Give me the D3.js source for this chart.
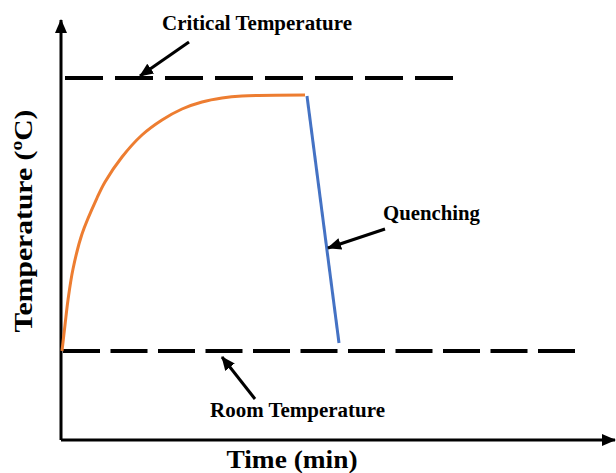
<!DOCTYPE html>
<meta charset="utf-8">
<style>
 body { margin: 0; background: #fff; }
 svg { display: block; }
 text {
   font-family: "Liberation Serif", "Times New Roman", serif;
   font-weight: bold;
   fill: #000;
 }
 .axis line { stroke: #000; stroke-width: 3; }
 .level line { stroke: #000; stroke-width: 4; }
 .level line.critical { stroke-dasharray: 38 12; }
 .level line.room { stroke-dasharray: 37 10.5; }
 .heat { fill: none; stroke: #ed7d31; stroke-width: 3; }
 .quench { fill: none; stroke: #4472c4; stroke-width: 3; }
 .note line { stroke: #000; stroke-width: 3; }
 marker path { fill: #000; }
</style>
<body>
<svg width="616" height="473">
  <defs>
    <marker id="head" viewBox="0 -7 14 14" refX="13" refY="0" markerWidth="14" markerHeight="14"
            markerUnits="userSpaceOnUse" orient="auto">
      <path d="M0,-6L14,0L0,6Z"/>
    </marker>
  </defs>
</svg>
<script src="https://cdn.jsdelivr.net/npm/d3@7"></script>
<script>
 // data (arbitrary units, time vs temperature)
 var heatTime = [0.1, 0.4, 0.7, 1.2, 2.1, 3.6, 4.4, 6.1, 8.1, 10.1, 12.1, 14.1, 16.1, 18.1, 24.4]
 var heatTemp = [8.9, 11.5, 14.0, 17.1, 20.6, 24.2, 25.8, 28.3, 30.5, 32.0, 33.1, 33.8, 34.2, 34.4, 34.5]
 var quenchTime = [24.6, 27.8]
 var quenchTemp = [34.4, 9.7]

 var levelNames = ['critical', 'room']
 var levelTemp = [36.2, 8.9]
 var levelStart = [0.4, 0.2]
 var levelEnd = [39.2, 51.6]

 // annotation arrows: [label, text x, text y, text width, tail x, tail y, tip x, tip y]
 var notes = [
   ['Critical Temperature', 10.1, 41.0, 190, 12.8, 39.8, 7.9, 36.4],
   ['Quenching', 32.2, 22.0, 97, 32.4, 21.1, 26.7, 19.2],
   ['Room Temperature', 14.9, 2.3, 175, 19.4, 4.1, 16.1, 8.3]
 ]

 var svg = d3.select('svg')
 var x = d3.scaleLinear().domain([0, 55]).range([61, 611])
 var y = d3.scaleLinear().domain([0, 42]).range([440, 20])

 // axes with arrow heads
 var axis = svg.append('g').attr('class', 'axis')
 axis.append('line')
     .attr('x1', x(0)).attr('y1', y(0))
     .attr('x2', x(55.4)).attr('y2', y(0))
     .attr('marker-end', 'url(#head)')
 axis.append('line')
     .attr('x1', x(0)).attr('y1', y(0))
     .attr('x2', x(0)).attr('y2', y(42))
     .attr('marker-end', 'url(#head)')

 // dashed reference levels
 svg.append('g').attr('class', 'level')
    .selectAll('line')
    .data(levelNames)
    .join('line')
    .attr('class', d => d)
    .attr('x1', (d, i) => x(levelStart[i]))
    .attr('x2', (d, i) => x(levelEnd[i]))
    .attr('y1', (d, i) => y(levelTemp[i]))
    .attr('y2', (d, i) => y(levelTemp[i]))

 var line = d3.line()
              .x(d => x(d[0]))
              .y(d => y(d[1]))
              .curve(d3.curveCatmullRom.alpha(0.5))

 svg.append('path')
    .attr('class', 'heat')
    .attr('d', line(d3.zip(heatTime, heatTemp)))

 svg.append('path')
    .attr('class', 'quench')
    .attr('d', d3.line().x(d => x(d[0])).y(d => y(d[1]))(d3.zip(quenchTime, quenchTemp)))

 // labels and pointer arrows
 var note = svg.append('g').attr('class', 'note')
 note.selectAll('line')
     .data(notes)
     .join('line')
     .attr('x1', d => x(d[4])).attr('y1', d => y(d[5]))
     .attr('x2', d => x(d[6])).attr('y2', d => y(d[7]))
     .attr('marker-end', 'url(#head)')

 note.selectAll('text')
     .data(notes)
     .join('text')
     .attr('x', d => x(d[1]))
     .attr('y', d => y(d[2]))
     .attr('textLength', d => d[3])
     .attr('lengthAdjust', 'spacingAndGlyphs')
     .style('font-size', '20px')
     .text(d => d[0])

 // axis titles
 svg.append('text')
    .attr('x', 292)
    .attr('y', 468)
    .attr('text-anchor', 'middle')
    .attr('textLength', 131)
    .attr('lengthAdjust', 'spacingAndGlyphs')
    .style('font-size', '26px')
    .text('Time (min)')

 svg.append('text')
    .attr('transform', 'translate(32,221) rotate(-90)')
    .attr('text-anchor', 'middle')
    .attr('textLength', 223)
    .attr('lengthAdjust', 'spacingAndGlyphs')
    .style('font-size', '26px')
    .text('Temperature (ºC)')
</script>
</body>
